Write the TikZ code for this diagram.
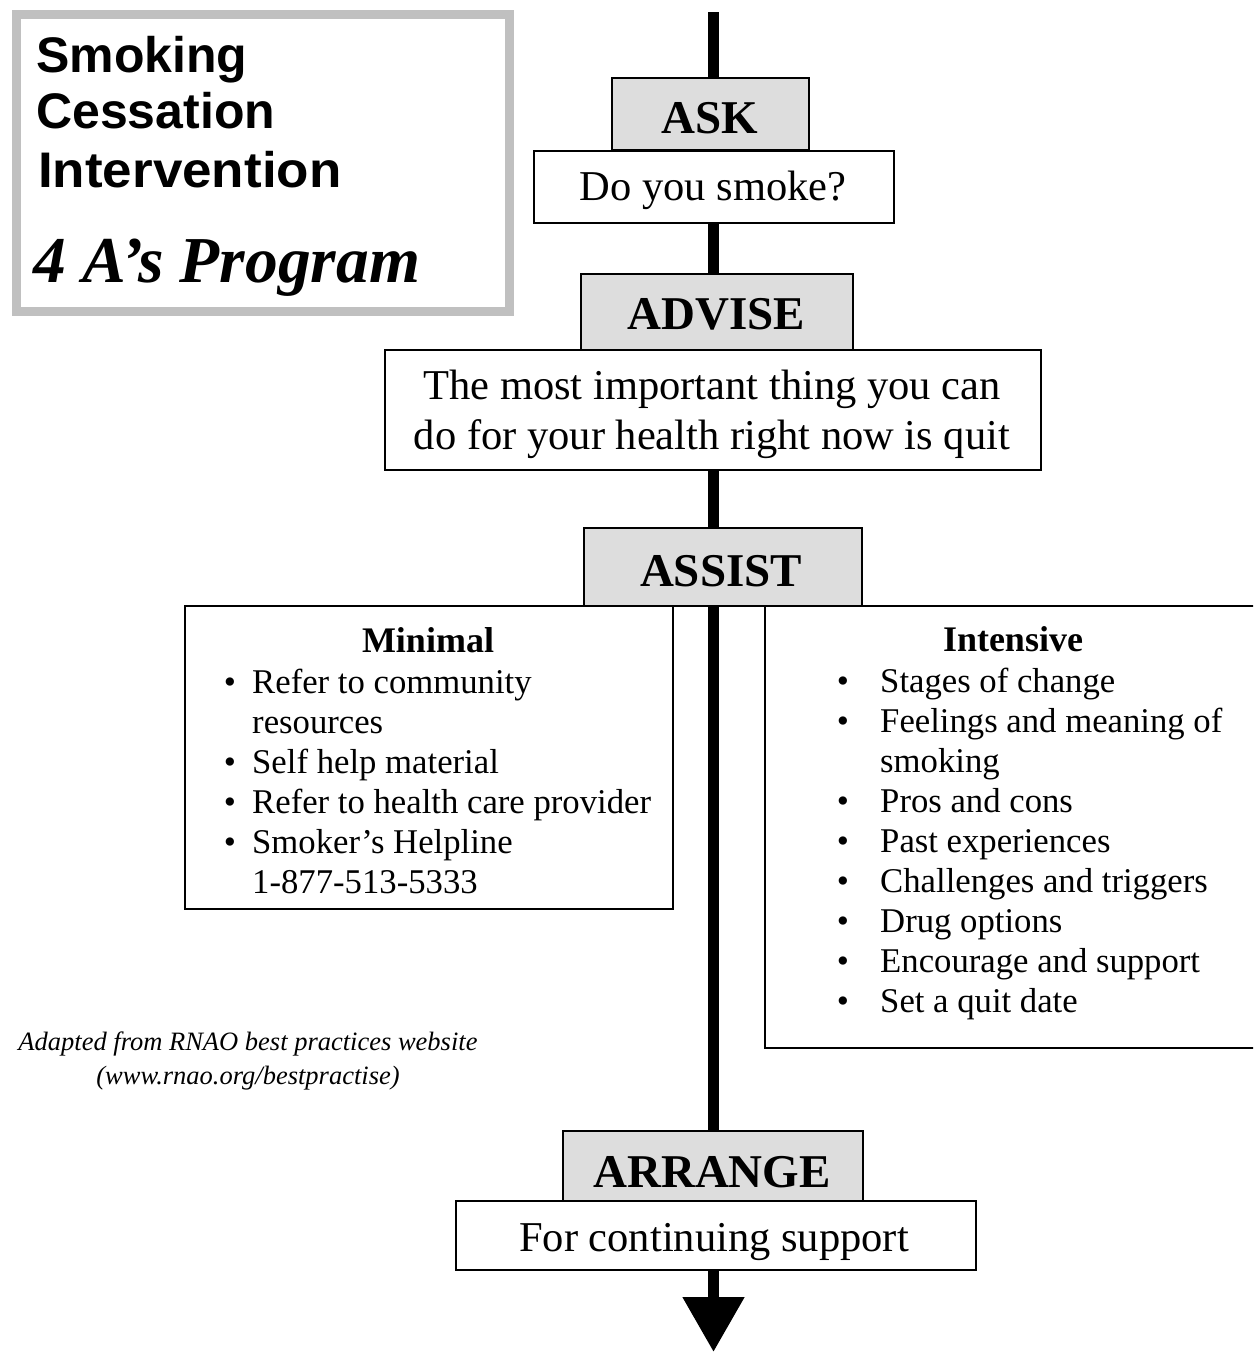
\documentclass[tikz,border=0pt]{standalone}
\usepackage{fontspec}
\setmainfont{Liberation Serif}
\newfontfamily\titlesans{Liberation Sans}
\usetikzlibrary{arrows.meta}
\definecolor{headgray}{HTML}{DDDDDD}
\definecolor{framegray}{HTML}{C0C0C0}
\tikzset{
  boxbase/.style={draw=black, line width=1.8pt, inner sep=0pt, anchor=north west},
  headbox/.style={boxbase, fill=headgray},
  whitebox/.style={boxbase, fill=white},
  headtext/.style={anchor=base, inner sep=0pt, font=\fontsize{47}{56}\selectfont\bfseries},
  bodytext/.style={anchor=base, inner sep=0pt, font=\fontsize{42.5}{50}\selectfont},
  listhead/.style={anchor=base, inner sep=0pt, font=\fontsize{36}{40}\selectfont\bfseries},
  listitem/.style={anchor=base west, inner sep=0pt, font=\fontsize{34.7}{40}\selectfont},
  bulletmark/.style={anchor=base, inner sep=0pt, font=\fontsize{34.7}{40}\selectfont},
  titletext/.style={anchor=base west, inner sep=0pt, font=\titlesans\fontsize{50}{57}\selectfont\bfseries},
  notetext/.style={anchor=base, inner sep=0pt, font=\fontsize{26.5}{34}\selectfont\itshape},
  spine/.style={line width=11.5pt, draw=black},
}
\begin{document}
\begin{tikzpicture}[x=1pt,y=-1pt]
\useasboundingbox (0,0) rectangle (1253,1352);
\clip (0,0) rectangle (1253,1352);

% title frame
\node[draw=framegray, line width=9pt, inner sep=0pt, anchor=north west,
      minimum width=493.5pt, minimum height=297.5pt] (frame) at (11.5,9.5) {};
\node[titletext] (t1) at (36,72) {Smoking};
\node[titletext] (t2) at (36,128) {Cessation};
\node[titletext] (t3) at (38,187) {\scalebox{1.06}[1]{Intervention}};
\node[anchor=base west, inner sep=0pt, font=\fontsize{65.5}{72}\selectfont\bfseries\itshape] (t4) at (33,282) {4 A’s Program};

% spine coordinates
\coordinate (top) at (713.5,12);
\coordinate (tip) at (713.5,1352);

% boxes
\node[headbox, minimum width=197pt, minimum height=72pt] (ask) at (611,77) {};
\node[whitebox, minimum width=360pt, minimum height=72pt] (dys) at (533,150) {};
\node[headbox, minimum width=272pt, minimum height=76pt] (advise) at (580,273) {};
\node[whitebox, minimum width=656pt, minimum height=120pt] (txt) at (384,349) {};
\node[headbox, minimum width=278pt, minimum height=78pt] (assist) at (583,527) {};
\node[whitebox, minimum width=488pt, minimum height=303pt] (minimal) at (184,605) {};
\node[whitebox, minimum width=520pt, minimum height=442pt] (intensive) at (764,605) {};
\node[headbox, minimum width=300pt, minimum height=70pt] (arrange) at (562,1130) {};
\node[whitebox, minimum width=520pt, minimum height=69pt] (support) at (455,1200) {};

% spine connectors
\draw[spine] (top) -- (top |- ask.north);
\draw[spine] (top |- dys.south) -- (top |- advise.north);
\draw[spine] (top |- txt.south) -- (top |- assist.north);
\draw[spine] (top |- assist.south) -- (top |- arrange.north);
\draw[spine, -{Triangle[width=59pt,length=55pt]}] (top |- support.south) -- (tip);

% box texts
\node[headtext] (askt) at (710,133) {ASK};
\node[bodytext] (dyst) at (713,200) {Do you smoke?};
\node[headtext] (advt) at (716,329) {ADVISE};
\node[bodytext] (txt1) at (712,399) {The most important thing you can};
\node[bodytext] (txt2) at (712,449) {do for your health right now is quit};
\node[headtext] (asst) at (721,586) {ASSIST};
\node[headtext] (arrt) at (712,1187) {ARRANGE};
\node[bodytext] (supt) at (714,1251) {For continuing support};

% minimal list
\node[listhead] (minh) at (428,652) {Minimal};
\node[bulletmark] (mb1) at (230,693) {•};
\node[listitem] (mi1) at (252,693) {Refer to community};
\node[listitem] (mi1b) at (252,733) {resources};
\node[bulletmark] (mb2) at (230,773) {•};
\node[listitem] (mi2) at (252,773) {Self help material};
\node[bulletmark] (mb3) at (230,813) {•};
\node[listitem] (mi3) at (252,813) {Refer to health care provider};
\node[bulletmark] (mb4) at (230,853) {•};
\node[listitem] (mi4) at (252,853) {Smoker’s Helpline};
\node[listitem] (mi4b) at (252,893) {1-877-513-5333};

% intensive list
\node[listhead] (inth) at (1013,651) {Intensive};
\node[bulletmark] (ib1) at (843,692) {•};
\node[listitem] (ii1) at (880,692) {Stages of change};
\node[bulletmark] (ib2) at (843,732) {•};
\node[listitem] (ii2) at (880,732) {Feelings and meaning of};
\node[listitem] (ii2b) at (880,772) {smoking};
\node[bulletmark] (ib3) at (843,812) {•};
\node[listitem] (ii3) at (880,812) {Pros and cons};
\node[bulletmark] (ib4) at (843,852) {•};
\node[listitem] (ii4) at (880,852) {Past experiences};
\node[bulletmark] (ib5) at (843,892) {•};
\node[listitem] (ii5) at (880,892) {Challenges and triggers};
\node[bulletmark] (ib6) at (843,932) {•};
\node[listitem] (ii6) at (880,932) {Drug options};
\node[bulletmark] (ib7) at (843,972) {•};
\node[listitem] (ii7) at (880,972) {Encourage and support};
\node[bulletmark] (ib8) at (843,1012) {•};
\node[listitem] (ii8) at (880,1012) {Set a quit date};

% footnote
\node[notetext] (n1) at (248,1050) {Adapted from RNAO best practices website};
\node[notetext] (n2) at (248,1084) {(www.rnao.org/bestpractise)};
\end{tikzpicture}
\end{document}
